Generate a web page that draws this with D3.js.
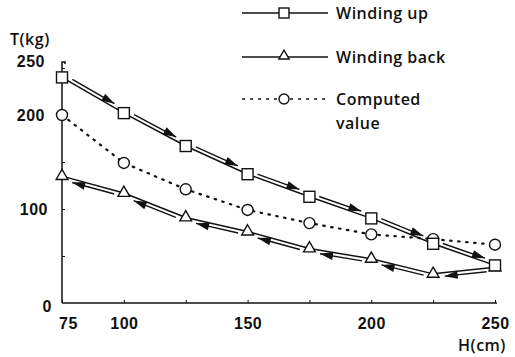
<!DOCTYPE html>
<html>
<head>
<meta charset="utf-8">
<script src="https://cdn.jsdelivr.net/npm/d3@7"></script>
<style>
  body { margin: 0; background: #fff; }
  svg { display: block; font-family: "Open Sans", sans-serif; font-weight: 600; letter-spacing: 0.5px; }
  .domain { stroke: #111; stroke-width: 1.5; }
  .tick line { stroke: #111; }
  .tick text { fill: #111; font-size: 16px; }
</style>
</head>
<body>
<div id="chart"></div>
<script>
const hValues = [75, 100, 125, 150, 175, 200, 225, 250];
const windingUp = [240, 202, 167, 137, 113, 90, 63, 40];
const windingBack = [135, 117, 91, 76, 58, 47, 31, 38];
const computed = [200, 149, 121, 99, 85, 73, 68, 62];
const xTickLabels = [75, 100, 150, 200, 250];
const yTicks = [0, 50, 100, 150, 200, 250];
const yTickLabels = [0, 100, 200, 250];

const width = 515, height = 357;
const margin = {top: 68, right: 20, bottom: 54, left: 62};
const innerW = 495 - margin.left;
const innerH = height - margin.bottom - margin.top;

const svg = d3.select("#chart")
  .append("svg")
  .attr("width", width)
  .attr("height", height);

const g = svg.append("g")
  .attr("transform", `translate(${margin.left}, ${margin.top})`);

const x = d3.scaleLinear().domain([75, 250]).range([0, innerW]);
const y = d3.scaleLinear().domain([0, 250]).range([innerH, 0]);

// x axis
const xAxis = g.append("g")
  .attr("transform", `translate(0, ${innerH})`)
  .call(d3.axisBottom(x)
    .tickValues(hValues)
    .tickSizeInner(-3)
    .tickSizeOuter(0)
    .tickPadding(15)
    .tickFormat(d => xTickLabels.includes(d) ? d : ""));
xAxis.select(".domain").attr("d", `M0,0H${innerW + 2}`);
xAxis.selectAll(".tick text").filter(d => d === 75).attr("dx", 6);

// y axis
const yAxis = g.append("g")
  .call(d3.axisLeft(y)
    .tickValues(yTicks)
    .tickSizeInner(-3)
    .tickSizeOuter(0)
    .tickPadding(14)
    .tickFormat(d => yTickLabels.includes(d) ? d : ""));
yAxis.selectAll(".tick").filter(d => d === 0).select("line").remove();
yAxis.selectAll(".tick text").filter(d => d === 250).attr("dy", "-0.1em").attr("dx", -3);
yAxis.selectAll(".tick text").filter(d => d === 200).attr("dx", -3);
yAxis.selectAll(".tick text").filter(d => d === 0).attr("dx", 4).attr("dy", "0.55em");
yAxis.select(".domain").attr("d", `M0,${innerH}V${y(250) - 6}h3v2`);

// axis titles
svg.append("text").attr("x", 10).attr("y", 45)
  .style("font-size", "16px").attr("fill", "#111").text("T(kg)");
svg.append("text").attr("x", 482).attr("y", 351)
  .attr("text-anchor", "middle")
  .style("font-size", "16px").attr("fill", "#111").text("H(cm)");

const up = hValues.map((h, i) => [x(h), y(windingUp[i])]);
const back = hValues.map((h, i) => [x(h), y(windingBack[i])]);
const comp = hValues.map((h, i) => [x(h), y(computed[i])]);

const line = d3.line();

g.append("path").attr("d", line(comp))
  .attr("fill", "none").attr("stroke", "#111")
  .attr("stroke-width", 2.2).attr("stroke-dasharray", "1.5,6.5")
  .attr("stroke-linecap", "round");
g.append("path").attr("d", line(back))
  .attr("fill", "none").attr("stroke", "#111").attr("stroke-width", 1.5);
g.append("path").attr("d", line(up))
  .attr("fill", "none").attr("stroke", "#111").attr("stroke-width", 1.5);

// direction arrows drawn alongside each segment
function arrows(pts, forward) {
  for (let i = 0; i < pts.length - 1; i++) {
    let a = pts[i], b = pts[i + 1];
    if (!forward) { [a, b] = [b, a]; }
    const dx = b[0] - a[0], dy = b[1] - a[1];
    const len = Math.hypot(dx, dy);
    const ux = dx / len, uy = dy / len;
    // left-hand normal: above for winding up, below when going back
    const nx = uy, ny = -ux;
    const off = 3.5;
    const s = [a[0] + ux * len * 0.14 + nx * off, a[1] + uy * len * 0.14 + ny * off];
    const e = [a[0] + ux * len * 0.82 + nx * off, a[1] + uy * len * 0.82 + ny * off];
    g.append("line")
      .attr("x1", s[0]).attr("y1", s[1]).attr("x2", e[0]).attr("y2", e[1])
      .attr("stroke", "#111").attr("stroke-width", 1.4);
    const hl = 13, hw = 4;
    const base = [e[0] - ux * hl, e[1] - uy * hl];
    g.append("path")
      .attr("d", `M${e[0]},${e[1]}L${base[0] + nx * hw},${base[1] + ny * hw}L${base[0] - nx * hw},${base[1] - ny * hw}Z`)
      .attr("fill", "#111");
  }
}
arrows(up, true);
arrows(back, false);

// markers
g.selectAll(".circ").data(comp).join("circle")
  .attr("cx", d => d[0]).attr("cy", d => d[1]).attr("r", 5.5)
  .attr("fill", "#fff").attr("stroke", "#111").attr("stroke-width", 1.4);

const tri = d3.symbol().type(d3.symbolTriangle).size(60);
g.selectAll(".tri").data(back).join("path")
  .attr("transform", d => `translate(${d[0]}, ${d[1]})`)
  .attr("d", tri).attr("fill", "#fff").attr("stroke", "#111").attr("stroke-width", 1.4);

g.selectAll(".sq").data(up).join("rect")
  .attr("x", d => d[0] - 5.5).attr("y", d => d[1] - 5.5)
  .attr("width", 11).attr("height", 11)
  .attr("fill", "#fff").attr("stroke", "#111").attr("stroke-width", 1.4);

// legend
const legendItems = [
  {label: ["Winding up"], y: 13, mark: "square", dash: null},
  {label: ["Winding back"], y: 57, mark: "triangle", dash: null},
  {label: ["Computed", "value"], y: 99, mark: "circle", dash: "3,5"}
];
const leg = svg.append("g");
legendItems.forEach(it => {
  leg.append("line").attr("x1", 242).attr("x2", 328)
    .attr("y1", it.y).attr("y2", it.y)
    .attr("stroke", "#111").attr("stroke-width", 1.5)
    .attr("stroke-dasharray", it.dash);
  if (it.mark === "square") {
    leg.append("rect").attr("x", 279).attr("y", it.y - 5).attr("width", 10).attr("height", 10)
      .attr("fill", "#fff").attr("stroke", "#111").attr("stroke-width", 1.4);
  } else if (it.mark === "triangle") {
    leg.append("path").attr("transform", `translate(284, ${it.y - 1})`)
      .attr("d", d3.symbol().type(d3.symbolTriangle).size(45))
      .attr("fill", "#fff").attr("stroke", "#111").attr("stroke-width", 1.4);
  } else {
    leg.append("circle").attr("cx", 284).attr("cy", it.y).attr("r", 5)
      .attr("fill", "#fff").attr("stroke", "#111").attr("stroke-width", 1.4);
  }
  it.label.forEach((t, k) => {
    leg.append("text").attr("x", 336).attr("y", it.y + 6 + k * 24)
      .style("font-size", "16px").attr("fill", "#111").text(t);
  });
});
</script>
</body>
</html>
